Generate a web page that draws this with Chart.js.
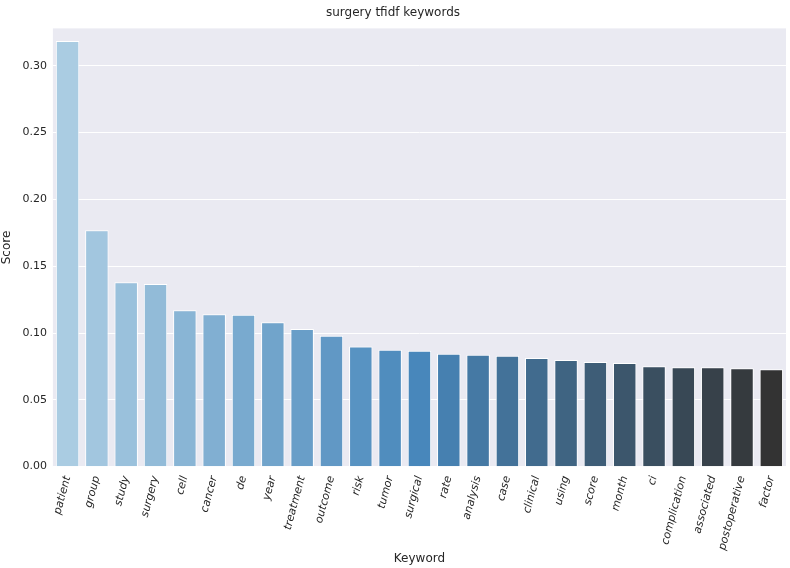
<!DOCTYPE html>
<html>
<head>
<script src="https://cdn.jsdelivr.net/npm/chart.js@4/dist/chart.umd.min.js"></script>
<style>
  body { margin: 0; background: #fff; }
  #wrap { width: 790px; height: 568px; }
</style>
</head>
<body>
<div id="wrap"><canvas id="c"></canvas></div>
<script>
var keywords = ["patient", "group", "study", "surgery", "cell", "cancer", "de", "year", "treatment", "outcome", "risk", "tumor", "surgical", "rate", "analysis", "case", "clinical", "using", "score", "month", "ci", "complication", "associated", "postoperative", "factor"];
var scores = [0.3185, 0.177, 0.138, 0.1366, 0.117, 0.114, 0.1136, 0.108, 0.103, 0.098, 0.090, 0.0875, 0.0867, 0.0844, 0.0837, 0.0829, 0.0813, 0.0798, 0.0783, 0.0775, 0.0752, 0.0744, 0.0744, 0.0737, 0.0729];
var yTicks = [0, 0.05, 0.10, 0.15, 0.20, 0.25, 0.30];

// Blues_d-like palette: light blue -> mid blue -> dark grey
function mix(a, b, t) {
  return a.map(function (v, i) { return Math.round(v + (b[i] - v) * t); });
}
var stops = [[170, 204, 226], [72, 135, 187], [51, 51, 51]];
var colors = keywords.map(function (k, i) {
  var t = i / (keywords.length - 1);
  var c = t < 0.5 ? mix(stops[0], stops[1], t / 0.5) : mix(stops[1], stops[2], (t - 0.5) / 0.5);
  return "rgb(" + c.join(",") + ")";
});

var bgPlugin = {
  id: "bg",
  beforeDraw: function (chart) {
    var a = chart.chartArea, ctx = chart.ctx;
    ctx.save();
    ctx.fillStyle = "#eaeaf2";
    ctx.fillRect(a.left, a.top, a.right - a.left, a.bottom - a.top);
    ctx.restore();
  }
};

Chart.defaults.font.family = "DejaVu Sans";
new Chart(document.getElementById("c"), {
  type: "bar",
  data: {
    labels: keywords,
    datasets: [{ data: scores, backgroundColor: colors, borderColor: "#fff", borderWidth: 1, categoryPercentage: 1, barPercentage: 0.8 }]
  },
  options: {
    responsive: true,
    maintainAspectRatio: false,
    animation: false,
    layout: { padding: { left: 0, right: 4, top: 2, bottom: 2 } },
    plugins: {
      legend: { display: false },
      title: { display: true, text: "surgery tfidf keywords", color: "#262626", font: { size: 12, weight: "normal" }, padding: { top: 4, bottom: 8 } },
      tooltip: { enabled: false }
    },
    scales: {
      x: {
        grid: { display: false },
        border: { display: false },
        ticks: { color: "#262626", font: { size: 11, style: "italic" }, maxRotation: 75, minRotation: 75, padding: 0 },
        title: { display: true, text: "Keyword", color: "#262626", font: { size: 12 }, padding: { top: 0, bottom: 0 } }
      },
      y: {
        min: 0,
        max: 0.328,
        afterBuildTicks: function (axis) { axis.ticks = yTicks.map(function (v) { return { value: v }; }); },
        grid: { color: "#fff", lineWidth: 1, drawTicks: false },
        border: { display: false },
        ticks: { color: "#262626", font: { size: 11 }, padding: 6, callback: function (v) { return v.toFixed(2); } },
        title: { display: true, text: "Score", color: "#262626", font: { size: 12 }, padding: { top: 0, bottom: 2 } }
      }
    }
  },
  plugins: [bgPlugin]
});
</script>
</body>
</html>
